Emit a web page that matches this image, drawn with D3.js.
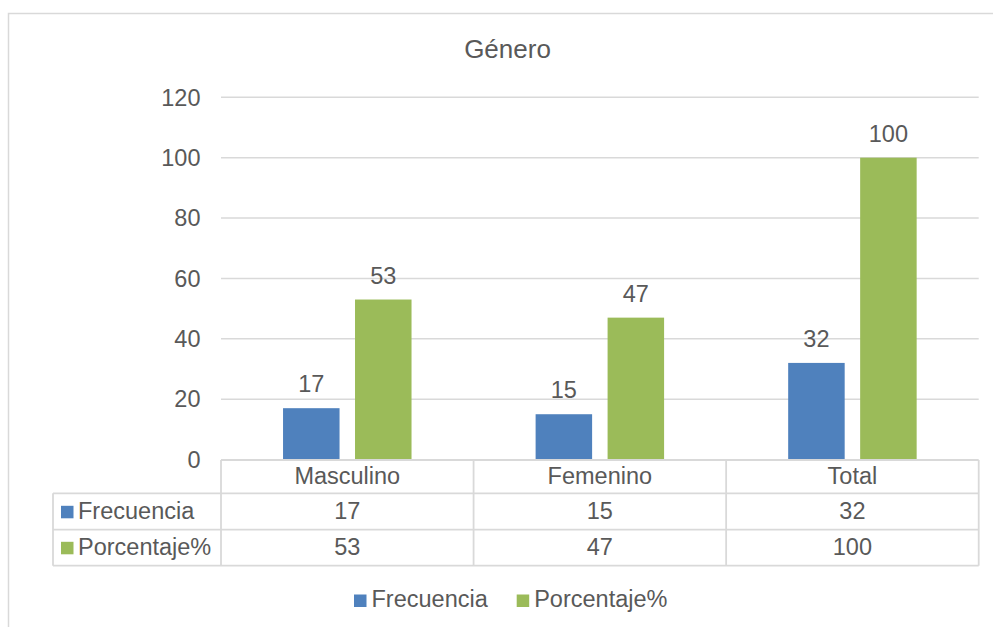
<!DOCTYPE html>
<html>
<head>
<meta charset="utf-8">
<script src="https://cdn.jsdelivr.net/npm/d3@7"></script>
<style>
  html, body { margin: 0; padding: 0; background: #fff; }
  svg { display: block; }
  text { font-family: "Liberation Sans", Arial, sans-serif; fill: #595959; }
</style>
</head>
<body>
<svg id="chart" width="993" height="627"></svg>
<script>
const title = "Género";
const categories = ["Masculino", "Femenino", "Total"];
const seriesNames = ["Frecuencia", "Porcentaje%"];
const frecuencia = [17, 15, 32];
const porcentaje = [53, 47, 100];
const yTicks = [0, 20, 40, 60, 80, 100, 120];
const colors = ["#4F81BD", "#9BBB59"];

const series = [frecuencia, porcentaje];
const svg = d3.select("#chart");
const W = 993, H = 627;
const grid = "#D9D9D9";
const fs = 23.5;

// outer chart border
svg.append("rect").attr("x", 8.5).attr("y", 13.5).attr("width", W + 20).attr("height", H + 20)
  .attr("fill", "none").attr("stroke", grid).attr("stroke-width", 1.5);

const plotL = 221, plotR = 978.7, plotT = 97.3, plotB = 459.5;
const x = d3.scaleBand().domain(categories).range([plotL, plotR]).paddingInner(0).paddingOuter(0);
const xs = d3.scaleBand().domain(seriesNames).range([0, x.bandwidth()]).paddingInner(0.215).paddingOuter(0.862);
const y = d3.scaleLinear().domain([0, 120]).range([plotB, plotT]);

// title
svg.append("text").attr("x", 507.5).attr("y", 58.3).attr("text-anchor", "middle")
  .style("font-size", "26px").text(title);

// gridlines
svg.append("g").selectAll("line").data(yTicks.filter(d => d > 0)).join("line")
  .attr("x1", plotL).attr("x2", plotR)
  .attr("y1", d => y(d)).attr("y2", d => y(d))
  .attr("stroke", grid).attr("stroke-width", 1.5);

// y tick labels
svg.append("g").selectAll("text").data(yTicks).join("text")
  .attr("x", 200.5).attr("y", d => y(d) + 8.3).attr("text-anchor", "end")
  .style("font-size", fs + "px").text(d => d);

// bars
const bars = svg.append("g");
series.forEach((vals, si) => {
  bars.selectAll(".b" + si).data(categories).join("rect")
    .attr("class", "b" + si)
    .attr("x", (c) => x(c) + xs(seriesNames[si]))
    .attr("width", xs.bandwidth())
    .attr("y", (c, i) => y(vals[i]))
    .attr("height", (c, i) => plotB - y(vals[i]))
    .attr("fill", colors[si]);
  bars.selectAll(".l" + si).data(categories).join("text")
    .attr("class", "l" + si)
    .attr("x", (c) => x(c) + xs(seriesNames[si]) + xs.bandwidth() / 2)
    .attr("y", (c, i) => y(vals[i]) - 16)
    .attr("text-anchor", "middle")
    .style("font-size", fs + "px")
    .text((c, i) => vals[i]);
});

// data table
const rowY = [460, 493.3, 529.7, 565.7];
const tableL = 53;
const tg = svg.append("g");
const hline = (x1, x2, yy) => tg.append("line").attr("x1", x1).attr("x2", x2).attr("y1", yy).attr("y2", yy)
  .attr("stroke", grid).attr("stroke-width", 1.8);
const vline = (xx, y1, y2) => tg.append("line").attr("x1", xx).attr("x2", xx).attr("y1", y1).attr("y2", y2)
  .attr("stroke", grid).attr("stroke-width", 1.8);
hline(plotL, plotR, rowY[0]);
hline(tableL, plotR, rowY[1]);
hline(tableL, plotR, rowY[2]);
hline(tableL, plotR, rowY[3]);
vline(tableL, rowY[1], rowY[3]);
const edges = categories.map(c => x(c)).concat([plotR]);
edges.forEach(e => vline(e, rowY[0], rowY[3]));

// category labels
tg.selectAll(".cat").data(categories).join("text").attr("class", "cat")
  .attr("x", c => x(c) + x.bandwidth() / 2).attr("y", 484)
  .attr("text-anchor", "middle").style("font-size", fs + "px").text(c => c);

const rowBase = [518.5, 554.5];
series.forEach((vals, si) => {
  tg.selectAll(".v" + si).data(categories).join("text").attr("class", "v" + si)
    .attr("x", c => x(c) + x.bandwidth() / 2).attr("y", rowBase[si])
    .attr("text-anchor", "middle").style("font-size", fs + "px").text((c, i) => vals[i]);
  tg.append("rect").attr("x", 61).attr("y", rowBase[si] - 12.7).attr("width", 12.5).attr("height", 12.5)
    .attr("fill", colors[si]);
  tg.append("text").attr("x", 78).attr("y", rowBase[si]).style("font-size", fs + "px").text(seriesNames[si]);
});

// legend
const legendX = [354, 516.7];
const lg = svg.append("g");
seriesNames.forEach((n, si) => {
  lg.append("rect").attr("x", legendX[si]).attr("y", 594.5).attr("width", 12.5).attr("height", 12.5)
    .attr("fill", colors[si]);
  lg.append("text").attr("x", legendX[si] + 17.5).attr("y", 606.5).style("font-size", fs + "px").text(n);
});
</script>
</body>
</html>
